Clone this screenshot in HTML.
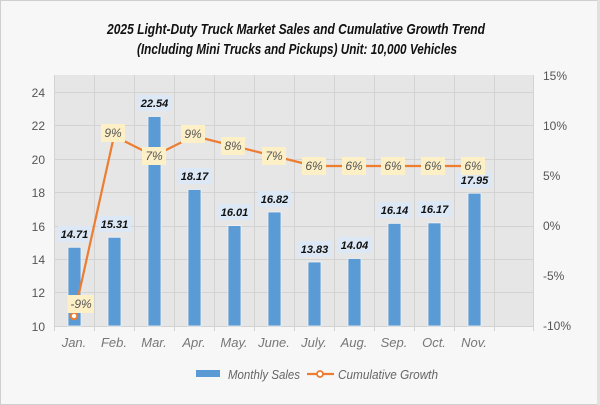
<!DOCTYPE html>
<html><head><meta charset="utf-8"><style>
html,body{margin:0;padding:0;background:#fff;}
svg{display:block;}
text{font-family:"Liberation Sans",sans-serif;}
</style></head><body>
<svg width="600" height="405" viewBox="0 0 600 405" xmlns="http://www.w3.org/2000/svg">
<rect x="0.5" y="0.5" width="599" height="404" fill="#f7f7f7" stroke="#cfcfcf"/>
<rect x="597" y="0" width="3" height="405" fill="#e0e0e0"/>
<text x="296" y="34" text-anchor="middle" font-size="15" font-weight="bold" font-style="italic" fill="#111" textLength="378" lengthAdjust="spacingAndGlyphs">2025 Light-Duty Truck Market Sales and Cumulative Growth Trend</text>
<text x="297" y="54" text-anchor="middle" font-size="15" font-weight="bold" font-style="italic" fill="#111" textLength="320" lengthAdjust="spacingAndGlyphs">(Including Mini Trucks and Pickups) Unit: 10,000 Vehicles</text>
<rect x="54" y="75" width="479" height="251" fill="#e6e6e6"/>
<g stroke="#d3d3d3" stroke-width="1">
<line x1="54" y1="92.5" x2="533" y2="92.5"/><line x1="54" y1="125.5" x2="533" y2="125.5"/><line x1="54" y1="159.5" x2="533" y2="159.5"/><line x1="54" y1="192.5" x2="533" y2="192.5"/><line x1="54" y1="226.5" x2="533" y2="226.5"/><line x1="54" y1="259.5" x2="533" y2="259.5"/><line x1="54" y1="292.5" x2="533" y2="292.5"/>
<line x1="94.5" y1="75" x2="94.5" y2="331"/><line x1="134.5" y1="75" x2="134.5" y2="331"/><line x1="174.5" y1="75" x2="174.5" y2="331"/><line x1="214.5" y1="75" x2="214.5" y2="331"/><line x1="254.5" y1="75" x2="254.5" y2="331"/><line x1="294.5" y1="75" x2="294.5" y2="331"/><line x1="334.5" y1="75" x2="334.5" y2="331"/><line x1="374.5" y1="75" x2="374.5" y2="331"/><line x1="414.5" y1="75" x2="414.5" y2="331"/><line x1="454.5" y1="75" x2="454.5" y2="331"/><line x1="494.5" y1="75" x2="494.5" y2="331"/><line x1="533.5" y1="75" x2="533.5" y2="331"/>
<line x1="54.5" y1="75" x2="54.5" y2="331"/>
<line x1="54" y1="326.5" x2="533" y2="326.5"/>
</g>
<g font-size="12" fill="#555" text-anchor="end">
<text x="45" y="97">24</text><text x="45" y="130">22</text><text x="45" y="164">20</text><text x="45" y="197">18</text><text x="45" y="231">16</text><text x="45" y="264">14</text><text x="45" y="297">12</text><text x="45" y="331">10</text>
</g>
<g font-size="12" fill="#555">
<text x="543" y="80">15%</text><text x="543" y="130">10%</text><text x="543" y="180">5%</text><text x="543" y="230">0%</text><text x="543" y="280">-5%</text><text x="543" y="330">-10%</text>
</g>
<g font-size="13" fill="#777" font-style="italic" text-anchor="middle">
<text x="74" y="347">Jan.</text><text x="114" y="347">Feb.</text><text x="154" y="347">Mar.</text><text x="194" y="347">Apr.</text><text x="234" y="347">May.</text><text x="274" y="347">June.</text><text x="314" y="347">July.</text><text x="354" y="347">Aug.</text><text x="394" y="347">Sep.</text><text x="434" y="347">Oct.</text><text x="474" y="347">Nov.</text>
</g>
<g fill="#5b9bd5" stroke="#f2f2f2" stroke-width="0.8">
<rect x="68" y="247.3" width="13" height="78.7"/>
<rect x="108" y="237.3" width="13" height="88.7"/>
<rect x="148" y="116.5" width="13" height="209.5"/>
<rect x="188" y="189.5" width="13" height="136.5"/>
<rect x="228" y="225.6" width="13" height="100.4"/>
<rect x="268" y="212" width="13" height="114"/>
<rect x="308" y="262" width="13" height="64"/>
<rect x="348" y="258.5" width="13" height="67.5"/>
<rect x="388" y="223.4" width="13" height="102.6"/>
<rect x="428" y="222.9" width="13" height="103.1"/>
<rect x="468" y="193.2" width="13" height="132.8"/>
</g>
<g fill="#dce8f5">
<rect x="58" y="226" width="33" height="16"/>
<rect x="98" y="216" width="33" height="16"/>
<rect x="138" y="95" width="33" height="16"/>
<rect x="178" y="168" width="33" height="16"/>
<rect x="218" y="204" width="33" height="16"/>
<rect x="258" y="191" width="33" height="16"/>
<rect x="298" y="241" width="33" height="16"/>
<rect x="338" y="237" width="33" height="16"/>
<rect x="378" y="202" width="33" height="16"/>
<rect x="418" y="201" width="33" height="16"/>
<rect x="458" y="172" width="33" height="16"/>
</g>
<g font-size="11" font-weight="bold" font-style="italic" fill="#111" text-anchor="middle">
<text x="74.5" y="238">14.71</text><text x="114.5" y="228">15.31</text><text x="154.5" y="107">22.54</text><text x="194.5" y="180">18.17</text><text x="234.5" y="216">16.01</text><text x="274.5" y="203">16.82</text><text x="314.5" y="253">13.83</text><text x="354.5" y="249">14.04</text><text x="394.5" y="214">16.14</text><text x="434.5" y="213">16.17</text><text x="474.5" y="184">17.95</text>
</g>
<polyline points="74,316 114,136 154,156 194,136 234,146 274,156 314,166 354,166 394,166 434,166 474,166" fill="none" stroke="#ed7d31" stroke-width="2.2"/>
<circle cx="74" cy="316" r="3.2" fill="#fff" stroke="#ed7d31" stroke-width="2"/>
<g fill="#fdefc6">
<rect x="68" y="295" width="26" height="18"/>
<rect x="101" y="124" width="24" height="18"/>
<rect x="142" y="147" width="24" height="18"/>
<rect x="181" y="125" width="24" height="18"/>
<rect x="221" y="137" width="24" height="18"/>
<rect x="262" y="147" width="24" height="18"/>
<rect x="302" y="157" width="24" height="18"/>
<rect x="342" y="157" width="24" height="18"/>
<rect x="381" y="157" width="24" height="18"/>
<rect x="421" y="157" width="24" height="18"/>
<rect x="461" y="157" width="24" height="18"/>
</g>
<g font-size="12" font-style="italic" fill="#555" text-anchor="middle">
<text x="81" y="308">-9%</text><text x="113" y="137">9%</text><text x="154" y="160">7%</text><text x="193" y="138">9%</text><text x="233" y="150">8%</text><text x="274" y="160">7%</text><text x="314" y="170">6%</text><text x="354" y="170">6%</text><text x="393" y="170">6%</text><text x="433" y="170">6%</text><text x="473" y="170">6%</text>
</g>
<rect x="196" y="370" width="24" height="7" fill="#5b9bd5"/>
<text x="228" y="379" font-size="13" font-style="italic" fill="#666" textLength="72" lengthAdjust="spacingAndGlyphs">Monthly Sales</text>
<line x1="307" y1="374" x2="334" y2="374" stroke="#ed7d31" stroke-width="2.2"/>
<circle cx="320" cy="374" r="3" fill="#fff" stroke="#ed7d31" stroke-width="1.8"/>
<text x="338" y="379" font-size="13" font-style="italic" fill="#666" textLength="100" lengthAdjust="spacingAndGlyphs">Cumulative Growth</text>
</svg>
</body></html>
